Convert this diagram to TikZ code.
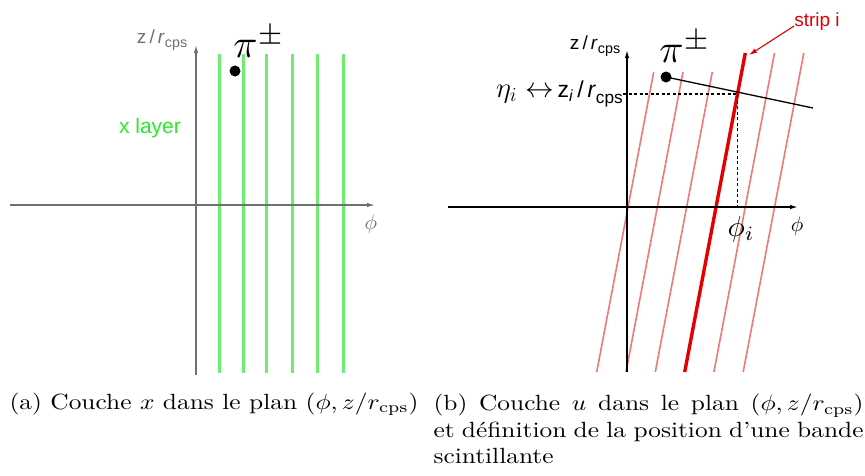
\documentclass[tikz,border=0pt]{standalone}
\usepackage{fontspec}
\newfontfamily\arialfont{Liberation Sans}
\usetikzlibrary{arrows.meta}
\definecolor{axgray}{RGB}{112,112,112}
\definecolor{lgreen}{RGB}{110,238,110}
\definecolor{tgreen}{RGB}{40,235,40}
\definecolor{lred}{RGB}{240,120,120}
\definecolor{sred}{RGB}{228,0,0}
\newcommand{\zrcps}[1]{{\arialfont z#1\,/\,\textit{r}\raisebox{-0.25em}{\fontsize{0.75em}{1em}\selectfont cps}}}
\begin{document}
\begin{tikzpicture}[x=1pt,y=-1pt,
  gaxis/.style={draw=axgray,line width=1.2pt,-{Latex[length=8pt,width=4.5pt]}},
  baxis/.style={draw=black,line width=1.4pt,-{Latex[length=8pt,width=4.5pt]}},
  greenstrip/.style={draw=lgreen,line width=3pt},
  thinstrip/.style={draw=lred,line width=1.6pt},
  thickstrip/.style={draw=sred,line width=3.4pt},
  dotmark/.style={circle,fill=black,inner sep=0pt,minimum size=11pt},
  axlab/.style={inner sep=0pt,font=\fontsize{19}{19}\selectfont},
  mathlab/.style={inner sep=0pt,scale=2.1},
  pilab/.style={inner sep=0pt,scale=4.0},
  caption/.style={inner sep=0pt,xscale=2.54,yscale=2.2,anchor=base west,font=\fontsize{10}{12}\selectfont}]
\useasboundingbox (0,0) rectangle (865,475);
% ---------------- left panel ----------------
\coordinate (axl) at (10,205);
\coordinate (axr) at (375,205);
\coordinate (ayb) at (196,375);
\coordinate (ayt) at (196,45);
\foreach \x in {219,243,266,292,317,343}
  \draw[greenstrip] (\x,54) -- (\x,373);
\draw[gaxis] (axl) -- (axr);
\draw[gaxis] (ayb) -- (ayt);
\node[axlab,text=axgray] (zlabA) at (162,40) {\zrcps{}};
\node[pilab] (piA) at (259,42) {$\pi^{\pm}$};
\node[dotmark] (dotA) at (235,71) {};
\node[inner sep=0pt,text=tgreen,font=\arialfont\fontsize{21}{21}\selectfont] (xlayer) at (150,128) {x layer};
\node[mathlab,text=axgray] (phiA) at (371,224) {$\phi$};
% ---------------- right panel ----------------
\coordinate (bxl) at (448,207);
\coordinate (bxr) at (798,207);
\coordinate (byb) at (627,372);
\coordinate (byt) at (627,50);
\foreach \k in {0,1,2}
  \draw[thinstrip] (596.7+29.3*\k,372) -- (653.7+29.3*\k,72);
\foreach \k in {4,5}
  \draw[thinstrip] (596.7+29.3*\k,372) -- (657.3+29.3*\k,53);
\coordinate (stripbot) at (684.7,372);
\coordinate (striptop) at (745.3,53);
\draw[thickstrip] (stripbot) -- (striptop);
\draw[baxis] (bxl) -- (bxr);
\draw[baxis] (byb) -- (byt);
\node[axlab] (zlabB) at (595,46) {\zrcps{}};
\node[pilab] (piB) at (685,47) {$\pi^{\pm}$};
\node[dotmark] (dotB) at (666,77) {};
\coordinate (trkend) at (813,108);
\draw[line width=1.3pt] (dotB.center) -- (trkend);
\node[inner sep=0pt,anchor=east,font=\fontsize{23}{23}\selectfont] (etalab) at (623,94)
  {\scalebox{1.15}{$\eta_i \leftrightarrow$}\,\zrcps{\textsubscript{\textit{i}}}};
\coordinate (hit) at (737.5,94);
\coordinate (hitx) at (737.5,207);
\draw[line width=1.1pt,dash pattern=on 3pt off 2.5pt] (etalab.east) -- (hit) -- (hitx);
\node[inner sep=0pt,scale=2.9] (phii) at (741,229) {$\phi_i$};
\node[mathlab] (phiB) at (797,226) {$\phi$};
\node[inner sep=0pt,text=sred,font=\arialfont\fontsize{19}{19}\selectfont] (striplab) at (817,22) {strip i};
\draw[sred,line width=1.1pt,-{Latex[length=8pt,width=5pt]}] (striplab.west) ++(0,4) -- (749,55);
% ---------------- captions ----------------
\node[caption] (capA) at (9,409) {(a) Couche $x$ dans le plan $(\phi,z/r_{\rm cps})$};
\node[caption,anchor=north west,text width=169.3pt,align=justify] (capB) at (433,394)
  {\hyphenpenalty=10000 (b) Couche $u$ dans le plan $(\phi,z/r_{\rm cps})$ et définition de la position d'une bande scintillante};
\end{tikzpicture}
\end{document}
